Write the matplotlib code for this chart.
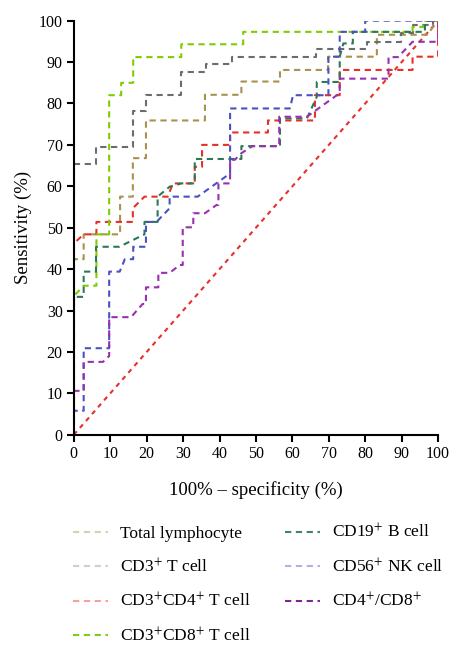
import matplotlib
matplotlib.use("Agg")
import matplotlib.pyplot as plt
from matplotlib.lines import Line2D

plt.rcParams['font.family'] = ['Liberation Serif', 'DejaVu Serif']
plt.rcParams['mathtext.fontset'] = 'stix'

# ROC curves: (100% - specificity, sensitivity)
total_x = [0, 0, 2.7, 2.7, 12.7, 12.7, 16.2, 16.2, 19.8, 19.8, 36, 36, 46, 46,
           56.6, 56.6, 69.8, 69.8, 83.2, 83.2, 97, 100]
total_y = [0, 42.4, 42.4, 48.4, 48.4, 57.5, 57.5, 66.8, 66.8, 75.9, 75.9, 82.1,
           82.1, 85.3, 85.3, 88.1, 88.1, 91.3, 91.3, 96.6, 96.6, 100]

cd3_x = [0, 0, 6.1, 6.1, 16.2, 16.2, 19.9, 19.9, 29.5, 29.5, 36.3, 36.3, 43.3,
         43.3, 66.5, 66.5, 80.4, 80.4, 89.8, 89.8, 93, 93, 98.7, 98.7, 100]
cd3_y = [0, 65.5, 65.5, 69.4, 69.4, 78.3, 78.3, 82, 82, 87.6, 87.6, 89.5, 89.5,
         91.2, 91.2, 93.1, 93.1, 94.9, 94.9, 97, 97, 98.9, 98.9, 100, 100]

cd4_x = [0, 0, 2.7, 6.2, 6.2, 16.2, 16.2, 19.4, 25.8, 27.2, 33.2, 33.2, 35.2,
         35.2, 42.9, 42.9, 53.3, 53.3, 66.2, 66.2, 73, 73, 93, 93, 100, 100]
cd4_y = [0, 46.2, 48.4, 48.4, 51.4, 51.4, 54.7, 57.5, 57.5, 60.7, 60.7, 64.7,
         64.7, 70, 70, 73, 73, 75.9, 75.9, 82, 82, 88.1, 88.1, 91.3, 91.3, 100]

cd8_x = [0, 0, 2.7, 6.2, 6.2, 9.7, 9.7, 13, 13, 16.3, 16.3, 29.5, 29.5, 46.5,
         46.5, 93, 93, 96, 96, 100]
cd8_y = [0, 33.5, 36, 36, 48.4, 48.4, 82, 82, 85, 85, 91.2, 91.2, 94.3, 94.3,
         97.3, 97.3, 98.5, 98.5, 100, 100]

cd19_x = [0, 0, 2.7, 2.7, 6.1, 6.1, 12.5, 19.4, 19.4, 23, 23, 26.3, 29.5, 33.2,
          33.2, 46, 46, 56.6, 56.6, 64, 66.7, 66.7, 73, 73, 74, 76.6, 76.6,
          96.4, 96.4, 100]
cd19_y = [0, 33.3, 33.3, 39.4, 39.4, 45.4, 45.4, 48.4, 51.4, 51.4, 57.5, 59.9,
          60.7, 60.7, 66.6, 66.6, 69.7, 69.7, 76.4, 76.4, 81.6, 85.2, 85.2,
          91.3, 94.5, 94.5, 97.3, 97.3, 100, 100]

cd56_x = [0, 0, 2.7, 2.7, 9.7, 9.7, 12.6, 14, 16.3, 16.3, 19.8, 19.8, 22.7,
          26.3, 26.3, 34, 42.9, 42.9, 59.3, 60.2, 66.7, 69.9, 69.9, 73, 73, 80,
          80, 100]
cd56_y = [0, 5.8, 5.8, 20.9, 20.9, 39.4, 39.4, 42.4, 42.4, 45.4, 45.4, 51.4,
          51.4, 54.7, 57.5, 57.5, 63.1, 78.8, 78.8, 82, 82, 82, 91.3, 91.3, 97.3,
          97.3, 100, 100]

ratio_x = [0, 0, 2.7, 2.7, 8, 9.7, 9.7, 15.7, 18.9, 19.8, 19.8, 23.2, 23.2,
           26.3, 29.1, 29.9, 29.9, 32.8, 32.8, 36, 39.2, 39.7, 39.7, 42.9, 42.9,
           44.2, 46, 49, 56.4, 56.4, 64, 73, 73, 86.4, 86.4, 89, 93, 100, 100]
ratio_y = [0, 10.6, 10.6, 17.6, 17.6, 19, 28.4, 28.4, 31.6, 31.6, 35.6, 35.6,
           39.1, 39.1, 41, 41, 50.1, 50.1, 53.5, 53.5, 55.5, 55.5, 60.7, 60.7,
           66.4, 66.4, 68, 69.7, 69.7, 76.8, 76.8, 82.5, 86, 86, 91.2, 91.2,
           94.9, 94.9, 100]

ref_x = [0, 100]
ref_y = [0, 100]

labels = ['Total lymphocyte', 'CD3$^{+}$ T cell', 'CD3$^{+}$CD4$^{+}$ T cell',
          'CD3$^{+}$CD8$^{+}$ T cell', 'CD19$^{+}$ B cell', 'CD56$^{+}$ NK cell',
          'CD4$^{+}$/CD8$^{+}$']
curves = [(total_x, total_y), (cd3_x, cd3_y), (cd4_x, cd4_y), (cd8_x, cd8_y),
          (cd19_x, cd19_y), (cd56_x, cd56_y), (ratio_x, ratio_y)]
colors = ['#a8924e', '#6c6c6c', '#e8302a', '#7fcc00', '#2a7a52', '#4b52c0', '#9a2fb0']
legend_colors = ['#d9d0b4', '#cfcfcf', '#f7a0a0', '#7fcc10', '#3f8566', '#b4b0e6', '#7a2a8e']

fig = plt.figure(figsize=(4.53, 6.46), dpi=100)
ax = fig.add_axes([0.163, 0.327, 0.804, 0.641])

ax.plot(ref_x, ref_y, color='#e8302a', lw=1.5, dashes=(2.2, 2.2), zorder=1)
for (x, y), c in zip(curves, colors):
    ax.plot(x, y, color=c, lw=1.5, dashes=(3, 2.2), zorder=2)

ax.set_xlim(0, 100)
ax.set_ylim(0, 100)
ax.set_xticks(range(0, 101, 10))
ax.set_yticks(range(0, 101, 10))
ax.spines['top'].set_visible(False)
ax.spines['right'].set_visible(False)
for s in ['left', 'bottom']:
    ax.spines[s].set_linewidth(1.5)
ax.tick_params(direction='out', length=5, width=1.5, labelsize=11.5, pad=3)
for sp in ax.spines.values():
    sp.set_clip_on(False)

ax.set_xlabel('100% \u2013 specificity (%)', fontsize=13.5, labelpad=14)
ax.set_ylabel('Sensitivity (%)', fontsize=13.5, labelpad=5)

handles = [Line2D([0], [0], color=c, lw=1.5, dashes=(3, 2.2)) for c in legend_colors]
fig.legend(handles, labels, ncol=2, loc='upper left', bbox_to_anchor=(0.146, 0.201),
           frameon=False, fontsize=12.5, handlelength=2.0, handletextpad=0.7,
           labelspacing=0.92, columnspacing=2.0, borderaxespad=0)

fig.savefig('out.png', dpi=100)
